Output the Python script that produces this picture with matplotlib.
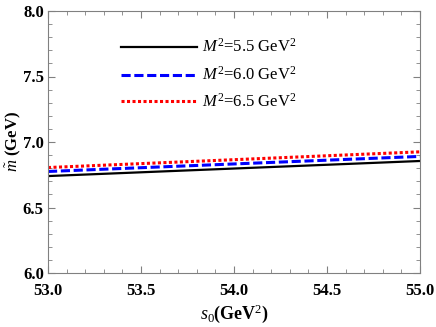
import numpy as np
import matplotlib.pyplot as plt
from matplotlib.ticker import MultipleLocator

# data (straight lines in s0)
s0 = [53.0, 55.0]
m_55 = [6.74, 6.855]
m_60 = [6.775, 6.89]
m_65 = [6.805, 6.925]
labels = [r'$M^2$=5.5 GeV$^2$', r'$M^2$=6.0 GeV$^2$', r'$M^2$=6.5 GeV$^2$']

plt.rcParams['font.family'] = ['Liberation Serif', 'DejaVu Serif']
plt.rcParams['mathtext.fontset'] = 'custom'
plt.rcParams['mathtext.rm'] = 'Liberation Serif'
plt.rcParams['mathtext.it'] = 'Liberation Serif:italic'
plt.rcParams['mathtext.bf'] = 'Liberation Serif:bold'

fig = plt.figure(figsize=(4.36, 3.27), dpi=100)
ax = fig.add_axes([48 / 436, 54 / 327, 372 / 436, 262 / 327])

ax.plot(s0, m_55, color='black', lw=1.6, solid_capstyle='butt')
ax.plot(s0, m_60, color='blue', lw=2.2, linestyle=(0, (3.0, 1.2)))
ax.plot(s0, m_65, color='red', lw=2.2, linestyle=(0, (1.0, 0.8)))

# legend drawn by hand in data coordinates like the original
styles = [dict(color='black', lw=1.6), dict(color='blue', lw=2.2, linestyle=(0, (3.0, 1.2))),
          dict(color='red', lw=2.2, linestyle=(0, (1.0, 0.8)))]
ys = [7.725, 7.51, 7.31]
for y, lab, st in zip(ys, labels, styles):
    ax.plot([53.395, 53.8], [y, y], **st)
    ax.text(53.83, y, lab, fontsize=12, va='center', ha='left')

ax.set_xlim(53.0, 55.0)
ax.set_ylim(6.0, 8.0)
ax.xaxis.set_major_locator(MultipleLocator(0.5))
ax.xaxis.set_minor_locator(MultipleLocator(0.1))
ax.yaxis.set_major_locator(MultipleLocator(0.5))
ax.yaxis.set_minor_locator(MultipleLocator(0.1))
ax.xaxis.set_major_formatter(plt.FormatStrFormatter('%.1f'))
ax.yaxis.set_major_formatter(plt.FormatStrFormatter('%.1f'))
ax.tick_params(which='both', direction='in', top=True, right=True, color='gray')
ax.tick_params(which='major', length=5, labelsize=12)
ax.tick_params(which='minor', length=3)
ax.tick_params(axis='x', pad=7)
ax.tick_params(axis='y', pad=3)
for lab in ax.get_xticklabels() + ax.get_yticklabels():
    lab.set_fontweight('bold')
for sp in ax.spines.values():
    sp.set_color('gray')

ax.set_xlabel(r'$s_0$(GeV$^2$)', fontsize=13, fontweight='bold', labelpad=3)
ax.set_ylabel(r'$\tilde{m}$ (GeV)', fontsize=12, fontweight='bold', labelpad=0)

fig.savefig('out.png', dpi=100)
